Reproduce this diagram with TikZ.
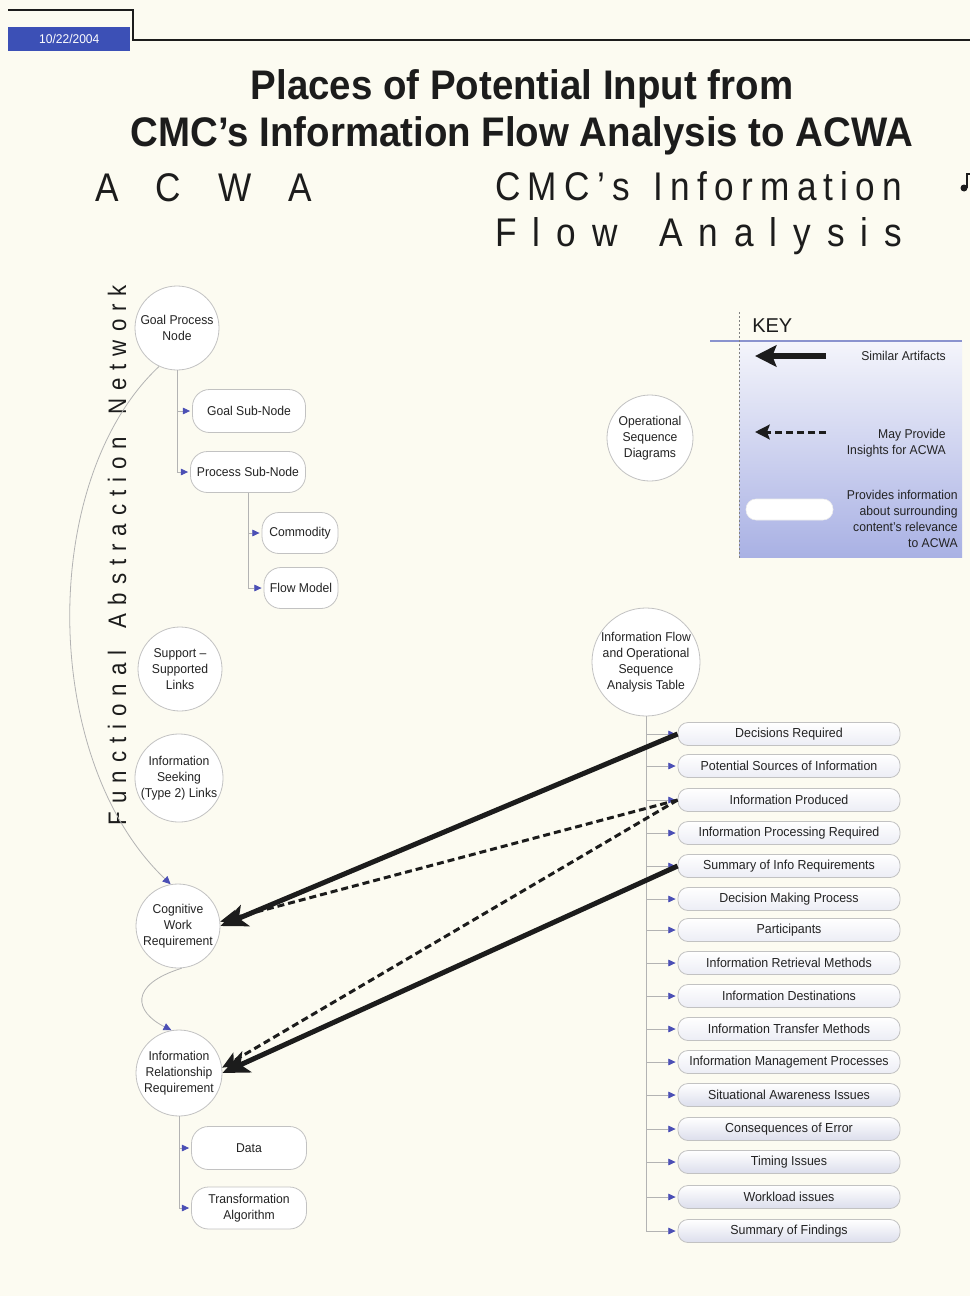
\documentclass[tikz,border=0pt]{standalone}
\usepackage{fontspec}
\setmainfont{Liberation Sans}
\newfontfamily\titlefam{Liberation Sans}[FakeStretch=0.93]
\newfontfamily\narrowfam{Liberation Sans}[FakeStretch=0.88]
\newfontfamily\labelfam{Liberation Sans}[FakeStretch=0.95]
\usetikzlibrary{arrows.meta}

% one unit of the picture
\newlength\px
\setlength\px{0.75pt}

% spread the letters of a line evenly over a given width (~ marks a word gap)
\makeatletter
\def\spr@stop{\spr@stop}
\newcommand\spreadto[2]{\makebox[#1][s]{\spr@first#2\spr@stop}}
\def\spr@first#1{#1\spr@rest}
\def\spr@rest#1{\ifx#1\spr@stop\else\hfil#1\expandafter\spr@rest\fi}
\makeatother

\definecolor{paper}{HTML}{FCFBF1}
\definecolor{ink}{HTML}{1C1C1C}
\definecolor{txt}{HTML}{232323}
\definecolor{rim}{HTML}{C2C2C2}
\definecolor{twig}{HTML}{B3B3B3}
\definecolor{tipblue}{HTML}{4B4FB5}
\definecolor{datebg}{HTML}{3C50B6}
\definecolor{keytop}{HTML}{F4F5FB}
\definecolor{keybot}{HTML}{A9B1E4}
\definecolor{keyrule}{HTML}{8A93CE}
\definecolor{itemlow}{HTML}{ECEDF5}
\definecolor{itemdeep}{HTML}{DCDEEC}

\tikzset{
  label text/.style={font=\labelfam\fontsize{9.6}{12}\selectfont, text=txt, align=center},
  circ/.style={circle, draw=rim, fill=white, line width=0.6pt, minimum size=84\px,
    inner sep=0pt, label text},
  pill/.style={rectangle, rounded corners=17\px, draw=rim, fill=white, line width=0.6pt,
    inner sep=0pt, label text},
  item/.style={rectangle, rounded corners=10\px, draw=rim, line width=0.6pt,
    top color=white, bottom color=itemlow, minimum width=222\px, minimum height=23\px,
    inner sep=0pt, font=\labelfam\fontsize{9.8}{12}\selectfont, text=txt},
  itemdark/.style={item, bottom color=itemdeep},
  twig/.style={draw=twig, line width=0.6pt},
  twigarr/.style={twig, shorten >=2\px, -{Triangle[length=5.5pt, width=5pt, color=tipblue]}},
  solidarr/.style={draw=ink, line width=5\px, -{Stealth[length=20pt, width=17pt, inset=5pt]}},
  dasharr/.style={draw=ink, line width=3\px, dash pattern=on 7\px off 4\px,
    -{Stealth[length=13pt, width=11pt, inset=3pt]}},
  keysolid/.style={draw=ink, line width=6\px, -{Stealth[length=16pt, width=16pt, inset=3pt]}},
  keydash/.style={draw=ink, line width=3\px, dash pattern=on 7\px off 4\px,
    -{Stealth[length=11pt, width=11pt, inset=2pt]}},
  keytext/.style={font=\labelfam\fontsize{9.6}{12}\selectfont, text=txt, align=right, inner sep=0pt}
}

\begin{document}
\begin{tikzpicture}[x=1\px, y=-1\px]
\useasboundingbox (0,0) rectangle (970,1296);
\fill[paper] (0,0) rectangle (970,1296);

% ---- page header ----
\draw[ink, line width=1.2\px] (8,10) -- (133,10) -- (133,40) -- (970,40);
\node[fill=datebg, minimum width=122\px, minimum height=24\px, anchor=north west,
  inner sep=0pt, text=white, font=\labelfam\fontsize{9.5}{11}\selectfont] (date) at (8,27) {10/22/2004};

% ---- titles ----
\node[anchor=base, inner sep=0pt, text=ink, font=\titlefam\bfseries\fontsize{31}{36}\selectfont]
  (title1) at (522,99) {Places of Potential Input from};
\node[anchor=base, inner sep=0pt, text=ink, font=\titlefam\bfseries\fontsize{31}{36}\selectfont]
  (title2) at (522,146) {CMC’s Information Flow Analysis to ACWA};

\node[anchor=base west, inner sep=0pt, text=ink, font=\narrowfam\fontsize{30}{36}\selectfont]
  (acwa) at (95,201) {\spreadto{217\px}{ACWA}};
\node[anchor=base west, inner sep=0pt, text=ink, font=\narrowfam\fontsize{30}{36}\selectfont]
  (cmc) at (495,200) {\spreadto{407\px}{CMC’s~Information}};
\node[anchor=base west, inner sep=0pt, text=ink, font=\narrowfam\fontsize{30}{36}\selectfont]
  (flow) at (495,246) {\spreadto{407\px}{Flow~Analysis}};
% clipped glyph at the right edge
\fill[ink] (964,188) circle (3.5);
\draw[ink, line width=1.3\px] (967,188) -- (967,174) -- (970,174);

% vertical caption of the left column
\node[rotate=90, anchor=base, inner sep=0pt, text=ink, font=\narrowfam\fontsize{19}{22}\selectfont]
  (fan) at (126,555) {\spreadto{540\px}{Functional~Abstraction~Network}};

% ---- key ----
\shade[top color=keytop, bottom color=keybot] (739,341) rectangle (962,557);
\draw[keyrule, line width=1.6\px] (710,341) -- (962,341);
\draw[gray, line width=0.6pt, dash pattern=on 2\px off 2\px] (739,312) -- (739,558);
\node[anchor=west, inner sep=0pt, text=ink, font=\fontsize{15}{18}\selectfont] (key) at (752,326) {KEY};
\coordinate (ks1) at (826,356);
\coordinate (ke1) at (755,356);
\draw[keysolid] (ks1) -- (ke1);
\node[keytext, anchor=east] (ksim) at (946,356) {Similar Artifacts};
\coordinate (ks2) at (826,432);
\coordinate (ke2) at (755,432);
\draw[keydash] (ks2) -- (ke2);
\node[keytext, anchor=east] (kmay) at (946,443) {May Provide\\Insights for ACWA};
\node[rectangle, rounded corners=10\px, fill=white, draw=white!85!gray, minimum width=87\px,
  minimum height=21\px, inner sep=0pt] (kbox) at (789.5,509.5) {};
\node[keytext, anchor=east] (kprov) at (958,519) {Provides information\\about surrounding\\content’s relevance\\to ACWA};

% ---- left column ----
\node[circ] (gpn) at (177,328) {Goal Process\\Node};
\node[pill, minimum width=113\px, minimum height=43\px] (gsn) at (249,411) {Goal Sub-Node};
\node[pill, minimum width=115\px, minimum height=41\px] (psn) at (248,472) {Process Sub-Node};
\node[pill, minimum width=76\px, minimum height=41\px] (com) at (300,533) {Commodity};
\node[pill, minimum width=74\px, minimum height=41\px] (flm) at (301,588) {Flow Model};
\node[circ] (ssl) at (180,669) {Support –\\Supported\\Links};
\node[circ, minimum size=86\px] (isl) at (179,778) {Information\\Seeking\\(Type 2) Links};
\node[circ] (cwr) at (178,926) {Cognitive\\Work\\Requirement};
\node[circ, minimum size=86\px] (irr) at (179,1073) {Information\\Relationship\\Requirement};
\node[pill, minimum width=115\px, minimum height=43\px] (dat) at (249,1148) {Data};
\node[pill, minimum width=115\px, minimum height=42\px] (tra) at (249,1208) {Transformation\\Algorithm};

% trees under the nodes
\draw[twig] (gpn.south) -- (gpn.south |- psn.west);
\draw[twigarr] (gpn.south |- gsn.west) -- (gsn.west);
\draw[twigarr] (gpn.south |- psn.west) -- (psn.west);
\draw[twig] (psn.south) -- (psn.south |- flm.west);
\draw[twigarr] (psn.south |- com.west) -- (com.west);
\draw[twigarr] (psn.south |- flm.west) -- (flm.west);
\draw[twig] (irr.south) -- (irr.south |- tra.west);
\draw[twigarr] (irr.south |- dat.west) -- (dat.west);
\draw[twigarr] (irr.south |- tra.west) -- (tra.west);

% links between the abstraction levels
\draw[twig, -{Triangle[length=6pt, width=5.5pt, color=tipblue]}]
  (gpn.245) .. controls (38,480) and (40,760) .. (cwr.100);
\draw[twig, -{Triangle[length=6pt, width=5.5pt, color=tipblue]}]
  (cwr.275) .. controls (128,985) and (135,1012) .. (irr.100);

% ---- right column ----
\node[circ, minimum size=86\px] (osd) at (650,438) {Operational\\Sequence\\Diagrams};
\node[circ, minimum size=100\px] (ifa) at (646,662) {Information Flow\\and Operational\\Sequence\\Analysis Table};

\foreach \n/\y/\t in {1/734/Decisions Required,
                      2/766/Potential Sources of Information,
                      3/800/Information Produced,
                      4/833/Information Processing Required,
                      5/866/Summary of Info Requirements,
                      6/899/Decision Making Process,
                      7/930/Participants,
                      8/963/Information Retrieval Methods,
                      9/996/Information Destinations,
                      10/1029/Information Transfer Methods,
                      11/1062/Information Management Processes}
  \node[item] (i\n) at (789,\y) {\t};
\foreach \n/\y/\t in {12/1095/Situational Awareness Issues,
                      13/1129/Consequences of Error,
                      14/1162/Timing Issues,
                      15/1197/Workload issues,
                      16/1231/Summary of Findings}
  \node[itemdark] (i\n) at (789,\y) {\t};

\draw[twig] (ifa.south) -- (ifa.south |- i16.west);
\foreach \n in {1,...,16}
  \draw[twigarr] (ifa.south |- i\n.west) -- (i\n.west);

% ---- correspondences between the two analyses ----
\draw[dasharr] (i3.west) -- (cwr.6);
\draw[dasharr] (i3.west) -- (irr.7);
\draw[solidarr] (i1.west) -- (cwr.east);
\draw[solidarr] (i5.west) -- (irr.east);
\end{tikzpicture}
\end{document}
